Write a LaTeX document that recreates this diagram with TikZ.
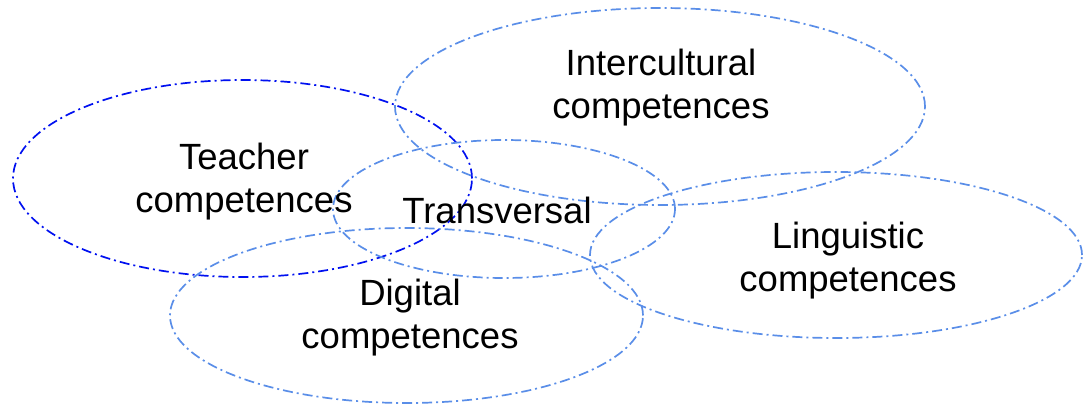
\documentclass[tikz,border=0pt]{standalone}
\usepackage{fontspec}
\setmainfont{Liberation Sans}
\usetikzlibrary{shapes.geometric}
\definecolor{lightblue}{HTML}{5A8EE8}
\definecolor{darkblue}{HTML}{0010F0}
\tikzset{
  oval/.style={ellipse, draw=lightblue, line width=1.7pt, dash pattern=on 10pt off 4pt on 2pt off 4pt, inner sep=0pt},
  darkoval/.style={oval, draw=darkblue},
  lbl/.style={align=center, font=\fontsize{36.5}{43}\selectfont, text=black, inner sep=0pt}
}
\begin{document}
\begin{tikzpicture}[x=1pt,y=-1pt]
\useasboundingbox (0,0) rectangle (1084,405);
\node[darkoval, minimum width=459pt, minimum height=197pt] (teacherE) at (242.5,178.5) {};
\node[oval, minimum width=530pt, minimum height=197pt] (interE) at (660,106.5) {};
\node[oval, minimum width=342pt, minimum height=138pt] (transE) at (504,209) {};
\node[oval, minimum width=492pt, minimum height=166pt] (lingE) at (836,255) {};
\node[oval, minimum width=473pt, minimum height=175pt] (digE) at (406.5,315.5) {};
\node[lbl] (teacherT) at (244,182) {Teacher\\competences};
\node[lbl] (interT) at (661,88) {Intercultural\\competences};
\node[lbl] (transT) at (497,210) {Transversal};
\node[lbl] (lingT) at (848,261) {Linguistic\\competences};
\node[lbl] (digT) at (410,318) {Digital\\competences};
\end{tikzpicture}
\end{document}
